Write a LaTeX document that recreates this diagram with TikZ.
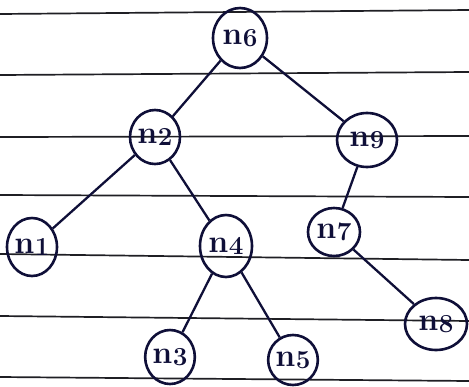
\documentclass[tikz,border=0pt]{standalone}
\usetikzlibrary{shapes.geometric}
\definecolor{ink}{rgb}{0.06,0.06,0.22}
\definecolor{rule}{rgb}{0.12,0.12,0.14}
\newcommand{\lbl}[1]{n\kern0.5pt\raisebox{-2pt}{\fontsize{26}{28}\selectfont #1}}
\begin{document}
\begin{tikzpicture}[x=1pt,y=-1pt,
  tnode/.style={ellipse,draw=ink,line width=2.6pt,inner sep=0pt,text=ink,
     font=\fontsize{32}{34}\selectfont\bfseries},
  edge/.style={draw=ink,line width=2.3pt},
  ruleline/.style={draw=rule,line width=1.7pt}]
\useasboundingbox (0,0) rectangle (469,386);
\fill[white] (0,0) rectangle (469,386);
% ruled paper
\draw[ruleline] (0,14) -- (469,10);
\draw[ruleline] (0,75) -- (469,72);
\draw[ruleline] (0,137) -- (469,136);
\draw[ruleline] (0,195) -- (469,197);
\draw[ruleline] (0,254) -- (469,260);
\draw[ruleline] (0,316) -- (469,321);
\draw[ruleline] (0,377) -- (469,381);
% nodes
\node[tnode,minimum width=54pt,minimum height=60pt] (n6) at (240,38) {\lbl{6}};
\node[tnode,minimum width=50pt,minimum height=54pt] (n2) at (155,137) {\lbl{2}};
\node[tnode,minimum width=60pt,minimum height=54pt] (n9) at (367,140) {\lbl{9}};
\node[tnode,minimum width=50pt,minimum height=58pt] (n1) at (32,247) {\lbl{1}};
\node[tnode,minimum width=52pt,minimum height=62pt] (n4) at (226,246) {\lbl{4}};
\node[tnode,minimum width=52pt,minimum height=48pt] (n7) at (334,232) {\lbl{7}};
\node[tnode,minimum width=46pt,minimum height=54pt] (n3) at (170,357) {\lbl{3}};
\node[tnode,minimum width=47pt,minimum height=50pt] (n5) at (293,360) {\lbl{5}};
\node[tnode,minimum width=62pt,minimum height=52pt] (n8) at (436,324) {\lbl{8}};
% edges
\draw[edge] (n6) -- (n2);
\draw[edge] (n6) -- (n9);
\draw[edge] (n2) -- (n1);
\draw[edge] (n2) -- (n4);
\draw[edge] (n9) -- (n7);
\draw[edge] (n7) -- (n8);
\draw[edge] (n4) -- (n3);
\draw[edge] (n4) -- (n5);
\end{tikzpicture}
\end{document}
